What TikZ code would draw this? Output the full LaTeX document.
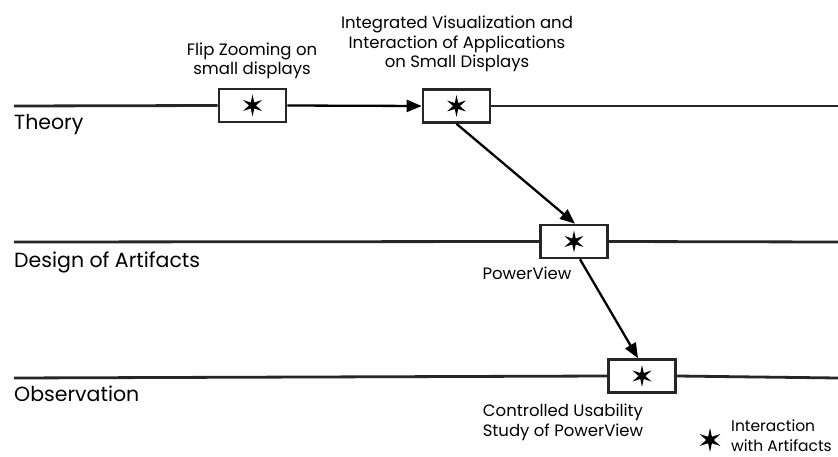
\documentclass[tikz,border=0pt]{standalone}
\usepackage{fontspec}
\setmainfont{Poppins}
\usetikzlibrary{arrows.meta,shapes.geometric}
\begin{document}
\begin{tikzpicture}[x=1pt,y=-1pt,
  lane/.style={line width=2.8pt,draw=black!85},
  stage/.style={draw=black!85,line width=2.6pt,fill=white,minimum width=67pt,minimum height=33pt,inner sep=0pt},
  flow/.style={line width=2.3pt,draw=black,-{Triangle[length=15pt,width=12pt]}},
  asterisk/.style={star,star points=6,star point ratio=3.2,fill=black,draw=none,minimum size=22pt,inner sep=0pt},
  lanelabel/.style={anchor=base west,inner sep=0pt,font=\fontsize{20.5}{24}\selectfont},
  note/.style={align=center,inner sep=0pt,anchor=base,font=\fontsize{16.5}{19.5}\selectfont}]
\useasboundingbox (0,0) rectangle (838,457);

% stage boxes
\node[stage] (b1) at (252.5,105.5) {};
\node[stage] (b2) at (456.5,106) {};
\node[stage] (b3) at (574,241.5) {};
\node[stage] (b4) at (642,376) {};

% lane end points
\coordinate (t0) at (14,106);  \coordinate (t1) at (838,106);
\coordinate (d0) at (14,242);  \coordinate (d1) at (838,242);
\coordinate (o0) at (14,378);  \coordinate (o1) at (838,378);

% lanes
\draw[lane] (t0) -- (b1.west);
\draw[lane] (b2.east) -- (t1);
\draw[lane] (d0) -- (b3.west);
\draw[lane] (b3.east) -- (d1);
\draw[lane] (o0) -- (b4.west);
\draw[lane] (b4.east) -- (o1);

% transitions
\draw[flow] (b1.east) -- (b2.west);
\draw[flow] (b2.south) -- ([xshift=1pt]b3.north);
\draw[flow] ([xshift=6pt]b3.south) -- ([xshift=-4pt]b4.north);

% asterisks in boxes
\foreach \b in {b1,b2,b3,b4} \node[asterisk] (s\b) at (\b) {};

% lane labels (base = baseline)
\node[lanelabel] (lt) at (14,130) {Theory};
\node[lanelabel] (ld) at (14,267) {Design of Artifacts};
\node[lanelabel] (lo) at (14,401) {Observation};

% stage labels (base = baseline of the last line)
\node[note] (n1) at (252,75) {Flip Zooming on\\small displays};
\node[note] (n2) at (457,68) {Integrated Visualization and\\Interaction of Applications\\on Small Displays};
\node[note] (n3) at (527,279) {PowerView};
\node[note] (n4) at (563,436) {Controlled Usability\\Study of PowerView};

% legend
\node[asterisk,minimum size=24pt] (legstar) at (710,440) {};
\node[note,align=left,anchor=base west,font=\fontsize{15.5}{19.5}\selectfont] (legtext) at (731,451) {Interaction\\with Artifacts};
\end{tikzpicture}
\end{document}
